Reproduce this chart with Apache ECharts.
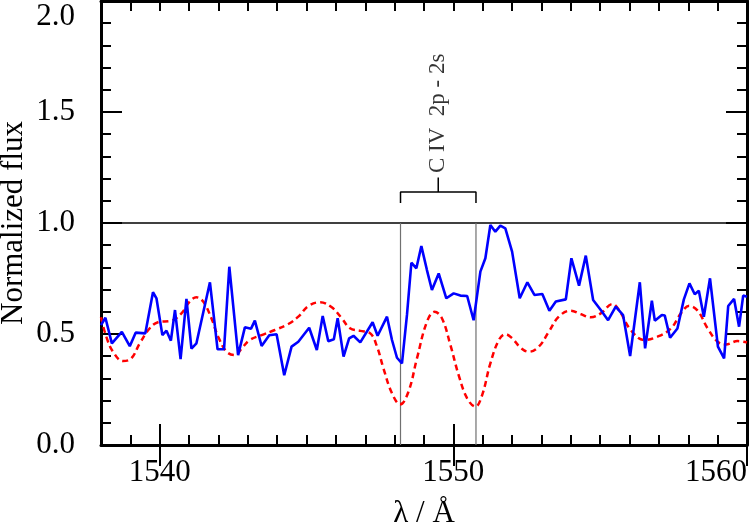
<!DOCTYPE html>
<html>
<head>
<meta charset="utf-8">
<script src="https://cdn.jsdelivr.net/npm/echarts@6/dist/echarts.min.js"></script>
<style>
html,body{margin:0;padding:0;background:#fff;}
#chart{width:749px;height:528px;}
</style>
</head>
<body>
<div id="chart"></div>
<script>
// Observed spectrum (blue)
const obsWave = [1538.00,1538.15,1538.37,1538.71,1538.98,1539.18,1539.51,1539.77,1539.89,1540.09,1540.23,1540.38,1540.52,1540.71,1540.91,1541.08,1541.25,1541.71,1541.97,1542.19,1542.37,1542.67,1542.90,1543.11,1543.24,1543.47,1543.73,1543.98,1544.24,1544.49,1544.72,1545.09,1545.35,1545.55,1545.74,1545.93,1546.06,1546.26,1546.45,1546.60,1546.83,1547.25,1547.42,1547.74,1547.91,1548.08,1548.25,1548.42,1548.57,1548.74,1548.91,1549.10,1549.27,1549.50,1549.76,1550.01,1550.24,1550.47,1550.69,1550.92,1551.09,1551.26,1551.43,1551.60,1551.77,1552.00,1552.26,1552.52,1552.76,1553.03,1553.27,1553.49,1553.83,1554.02,1554.28,1554.51,1554.76,1555.02,1555.27,1555.53,1555.78,1556.02,1556.35,1556.53,1556.76,1556.86,1557.10,1557.20,1557.38,1557.63,1557.85,1558.04,1558.22,1558.36,1558.53,1558.74,1559.01,1559.22,1559.36,1559.56,1559.73,1559.87,1560.00];
const obsFlux = [0.540,0.573,0.458,0.510,0.445,0.506,0.503,0.688,0.660,0.495,0.515,0.470,0.608,0.387,0.658,0.434,0.458,0.733,0.431,0.431,0.803,0.405,0.530,0.524,0.560,0.446,0.494,0.499,0.314,0.443,0.465,0.528,0.428,0.581,0.467,0.476,0.571,0.398,0.480,0.492,0.462,0.553,0.492,0.578,0.473,0.393,0.368,0.586,0.821,0.796,0.896,0.788,0.698,0.773,0.661,0.683,0.673,0.671,0.562,0.781,0.841,0.991,0.961,0.988,0.976,0.871,0.661,0.733,0.676,0.680,0.605,0.646,0.656,0.841,0.718,0.853,0.653,0.608,0.562,0.623,0.585,0.401,0.733,0.435,0.650,0.560,0.586,0.583,0.483,0.525,0.656,0.728,0.679,0.695,0.578,0.751,0.443,0.390,0.626,0.658,0.533,0.673,0.668];

// Model spectrum (red dashed)
const modelWave = [1538.00,1538.18,1538.41,1538.75,1539.03,1539.32,1539.66,1539.94,1540.40,1540.74,1541.02,1541.25,1541.48,1541.76,1541.99,1542.28,1542.56,1542.79,1543.07,1543.47,1543.92,1544.38,1544.72,1545.06,1545.46,1545.86,1546.20,1546.48,1546.83,1547.17,1547.40,1547.62,1547.91,1548.19,1548.47,1548.76,1549.10,1549.36,1549.61,1549.90,1550.18,1550.47,1550.75,1550.98,1551.26,1551.55,1551.77,1552.00,1552.29,1552.57,1552.91,1553.25,1553.59,1553.99,1554.33,1554.68,1555.02,1555.42,1555.64,1556.04,1556.50,1556.95,1557.41,1557.75,1558.03,1558.32,1558.66,1559.00,1559.28,1559.68,1560.00];
const modelFlux = [0.575,0.488,0.420,0.378,0.390,0.458,0.526,0.553,0.560,0.593,0.646,0.665,0.646,0.571,0.488,0.420,0.405,0.435,0.473,0.495,0.518,0.545,0.578,0.626,0.643,0.620,0.571,0.526,0.514,0.503,0.443,0.345,0.233,0.183,0.240,0.390,0.555,0.600,0.571,0.450,0.315,0.210,0.173,0.225,0.368,0.473,0.499,0.481,0.438,0.420,0.443,0.510,0.578,0.605,0.590,0.575,0.593,0.635,0.608,0.518,0.473,0.488,0.525,0.593,0.627,0.605,0.525,0.465,0.453,0.468,0.462];

// Axis settings / ticks
const xMin = 1538, xMax = 1560;
const xMajorTicks = [1540, 1550, 1560];
const yMin = 0, yMax = 2;

// Annotation: C IV doublet
const lineWaves = [1548.20, 1550.77];
const lineLabel = 'C IV  2p - 2s';
const continuumLevel = 1.0;
const bracketLow = 1.09, bracketHigh = 1.14, bracketTop = 1.205, labelLevel = 1.225;

const zip = (a, b) => a.map((v, i) => [v, b[i]]);
const lineMid = (lineWaves[0] + lineWaves[1]) / 2;

const FONT = 'Liberation Serif';
const black = '#000';

const baseX = {
  type: 'value', min: xMin, max: xMax, splitLine: {show: false},
  axisLine: {show: false}, axisLabel: {show: false},
  axisTick: {show: true, inside: true, length: 10, lineStyle: {color: black, width: 2}}
};
const baseY = {
  type: 'value', min: yMin, max: yMax, splitLine: {show: false},
  axisLine: {show: false}, axisLabel: {show: false},
  axisTick: {show: true, inside: true, length: 10, lineStyle: {color: black, width: 2}}
};

const chart = echarts.init(document.getElementById('chart'), null, {renderer: 'canvas'});
chart.setOption({
  backgroundColor: '#fff',
  animation: false,
  grid: {left: 101, right: 2, top: 1, bottom: 83, containLabel: false, outerBoundsMode: 'none'},
  xAxis: [
    Object.assign({}, baseX, {position: 'bottom', interval: 1,
      axisLine: {show: true, onZero: false, lineStyle: {color: black, width: 3}},
      name: 'λ / Å', nameLocation: 'middle', nameGap: 53,
      nameTextStyle: {fontFamily: FONT, fontSize: 31, color: black}}),
    Object.assign({}, baseX, {position: 'bottom',
      axisTick: {show: true, inside: true, length: 21, customValues: xMajorTicks, lineStyle: {color: black, width: 2}},
      axisLabel: {show: true, customValues: xMajorTicks, margin: 12, fontFamily: FONT, fontSize: 31, color: black,
        alignMaxLabel: 'right', formatter: v => String(v)}}),
    Object.assign({}, baseX, {position: 'top', interval: 1,
      axisLine: {show: true, onZero: false, lineStyle: {color: black, width: 3}}}),
    Object.assign({}, baseX, {position: 'top',
      axisTick: {show: true, inside: true, length: 21, customValues: xMajorTicks, lineStyle: {color: black, width: 2}}})
  ],
  yAxis: [
    Object.assign({}, baseY, {position: 'left', interval: 0.1,
      axisLine: {show: true, onZero: false, lineStyle: {color: black, width: 3}},
      name: 'Normalized flux', nameLocation: 'middle', nameGap: 72,
      nameTextStyle: {fontFamily: FONT, fontSize: 31, color: black}}),
    Object.assign({}, baseY, {position: 'left', interval: 0.5,
      axisTick: {show: true, inside: true, length: 21, lineStyle: {color: black, width: 2}},
      axisLabel: {show: true, margin: 26, fontFamily: FONT, fontSize: 31, color: black,
        verticalAlignMaxLabel: 'top', formatter: v => v.toFixed(1)}}),
    Object.assign({}, baseY, {position: 'right', interval: 0.1,
      axisLine: {show: true, onZero: false, lineStyle: {color: black, width: 3}}}),
    Object.assign({}, baseY, {position: 'right', interval: 0.5,
      axisTick: {show: true, inside: true, length: 21, lineStyle: {color: black, width: 2}}})
  ],
  series: [
    {type: 'line', data: [[xMin, continuumLevel], [xMax, continuumLevel]], symbol: 'none',
      lineStyle: {color: black, width: 1.3}, silent: true, z: 1},
    {type: 'line', data: [[lineWaves[0], 0], [lineWaves[0], continuumLevel]], symbol: 'none',
      lineStyle: {color: '#707070', width: 1.2}, silent: true, z: 1},
    {type: 'line', data: [[lineWaves[1], 0], [lineWaves[1], continuumLevel]], symbol: 'none',
      lineStyle: {color: '#707070', width: 1.2}, silent: true, z: 1},
    {type: 'line', data: [[lineWaves[0], bracketLow], [lineWaves[0], bracketHigh], [lineWaves[1], bracketHigh], [lineWaves[1], bracketLow]],
      symbol: 'none', lineStyle: {color: black, width: 1.5}, silent: true},
    {type: 'line', data: [[lineMid, bracketHigh], [lineMid, bracketTop]], symbol: 'none',
      lineStyle: {color: black, width: 1.5}, silent: true},
    {type: 'scatter', data: [[lineMid, labelLevel]], symbolSize: 0, silent: true,
      label: {show: true, position: 'inside', formatter: lineLabel, rotate: 90, align: 'left', verticalAlign: 'middle',
        fontFamily: FONT, fontSize: 23, color: black}},
    {type: 'line', data: zip(modelWave, modelFlux), symbol: 'none', smooth: 0.4,
      lineStyle: {color: '#ff0000', width: 2.5, type: [6, 4]}, z: 3},
    {type: 'line', data: zip(obsWave, obsFlux), symbol: 'none',
      lineStyle: {color: '#0000ff', width: 2.6}, z: 4}
  ]
});
</script>
</body>
</html>
